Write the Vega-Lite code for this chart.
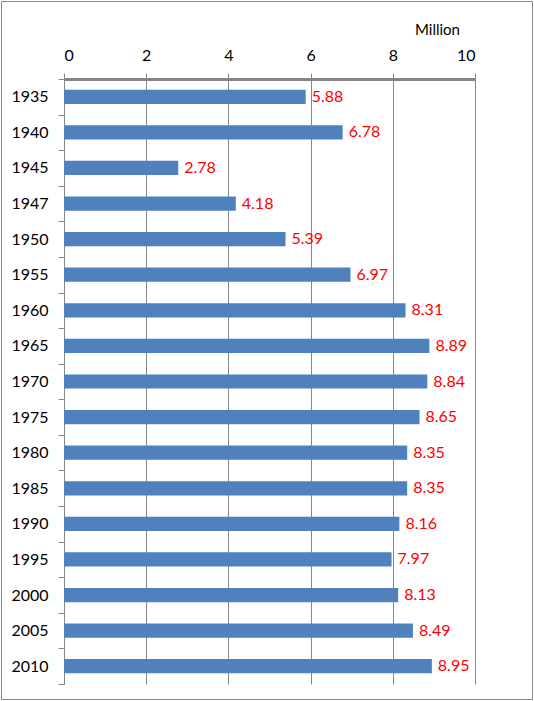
{
  "$schema": "https://vega.github.io/schema/vega-lite/v6.json",
  "width": 531,
  "height": 698,
  "autosize": "none",
  "padding": {"left": 1, "top": 1, "right": 2, "bottom": 2},
  "background": "white",
  "config": {
    "view": {"stroke": "#868686", "strokeWidth": 1},
    "font": "Lato",
    "axis": {"labelFont": "Lato", "titleFont": "Lato", "labelColor": "#000", "titleColor": "#000", "domain": true}
  },
  "data": {
    "values": [
      {"year": "1935", "value": 5.88},
      {"year": "1940", "value": 6.78},
      {"year": "1945", "value": 2.78},
      {"year": "1947", "value": 4.18},
      {"year": "1950", "value": 5.39},
      {"year": "1955", "value": 6.97},
      {"year": "1960", "value": 8.31},
      {"year": "1965", "value": 8.89},
      {"year": "1970", "value": 8.84},
      {"year": "1975", "value": 8.65},
      {"year": "1980", "value": 8.35},
      {"year": "1985", "value": 8.35},
      {"year": "1990", "value": 8.16},
      {"year": "1995", "value": 7.97},
      {"year": "2000", "value": 8.13},
      {"year": "2005", "value": 8.49},
      {"year": "2010", "value": 8.95}
    ]
  },
  "encoding": {
    "y": {
      "field": "year", "type": "nominal", "sort": null,
      "scale": {"range": [78, 683], "paddingInner": 0, "paddingOuter": 0},
      "axis": {
        "orient": "left", "offset": -63, "title": null,
        "tickBand": "extent", "tickSize": 6, "tickColor": "#868686",
        "domain": true, "domainColor": "#868686", "domainWidth": 1,
        "labelFontSize": 16, "labelPadding": 10, "grid": false
      }
    },
    "x": {
      "field": "value", "type": "quantitative",
      "scale": {"domain": [0, 10], "range": [63, 474], "nice": false, "zero": true},
      "axis": {
        "orient": "top", "offset": -78, "values": [0, 2, 4, 6, 8, 10],
        "grid": true, "gridColor": "#868686", "tickColor": "#868686",
        "domain": true, "domainColor": "#868686", "domainWidth": 3,
        "tickSize": 6, "labelFontSize": 16,
        "labelPadding": 10, "title": "Million", "titleFontSize": 15,
        "titleFontWeight": "normal", "titleX": 436, "titleAnchor": null,
        "titleAlign": "center", "titlePadding": 10
      }
    }
  },
  "layer": [
    {
      "mark": {"type": "bar", "color": "#4F81BD", "height": {"band": 0.4}}
    },
    {
      "mark": {"type": "text", "align": "left", "dx": 6, "fontSize": 16, "color": "#FF0000"},
      "encoding": {
        "text": {"field": "value", "type": "quantitative", "format": ".2f"}
      }
    }
  ]
}
